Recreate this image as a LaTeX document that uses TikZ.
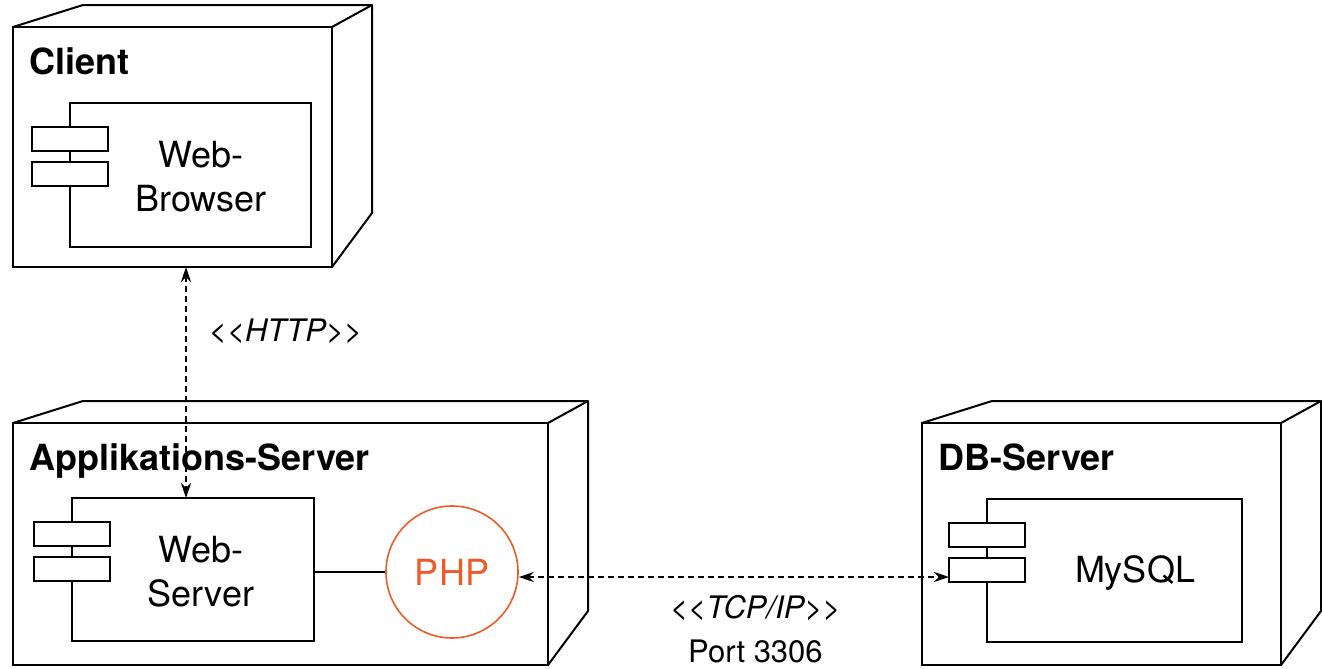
\documentclass[tikz,border=0pt]{standalone}
\usepackage{fontspec}
\setmainfont{TeX Gyre Heros}
\usepackage{xcolor}
\usepackage{tikz}
\usetikzlibrary{positioning,arrows.meta}
\definecolor{phporange}{RGB}{240,90,40}
\newcommand{\stereo}[1]{<\kern0pt<#1>\kern0pt>}

\begin{document}
\begin{tikzpicture}[x=0.5pt, y=-0.5pt,
  face/.style={draw, line width=1pt, inner sep=0pt, outer sep=0pt},
  depth/.style={line width=1pt, line join=round},
  title/.style={font=\fontsize{18}{22}\selectfont\bfseries, inner sep=0pt, anchor=base west},
  comp/.style={draw, fill=white, line width=1pt, inner sep=0pt, outer sep=0pt},
  port/.style={draw, fill=white, line width=1pt, inner sep=0pt, outer sep=0pt,
    minimum width=38pt, minimum height=12pt},
  comptext/.style={font=\fontsize{18}{22}\selectfont, align=center, inner sep=0pt},
  lbl/.style={font=\fontsize{15.5}{20}\selectfont, inner sep=0pt},
  link/.style={line width=0.9pt, dash pattern=on 3pt off 2pt,
    {Stealth[length=7.5pt, width=5pt]}-{Stealth[length=7.5pt, width=5pt]}}]
% deployment diagram, pixel coordinates (y downwards)
\useasboundingbox (0,0) rectangle (1322,669);

% Helper: 3D node box, front face from (left, top) to (right, bottom)
\newcommand{\umlnode}[6]{% name, left, top, right, bottom, title
  \node[face, minimum width={(#4-#2)*0.5pt}, minimum height={(#5-#3)*0.5pt}]
    (#1) at ({(#2+#4)/2}, {(#3+#5)/2}) {};
  \draw[depth] (#1.north west) -- ({#2+70}, {#3-22}) -- ({#4+40}, {#3-22})
    -- ({#4+40}, {#5-54}) -- (#1.south east);
  \draw[depth] (#1.north east) -- ({#4+40}, {#3-22});
  \node[title] (#1-title) at ({#2+16}, {#3+47}) {#6};
}

% Helper: component with its two small port boxes
\newcommand{\umlcomp}[7]{% name, left, top, right, bottom, text x, text
  \node[comp, minimum width={(#4-#2)*0.5pt}, minimum height={(#5-#3)*0.5pt}]
    (#1) at ({(#2+#4)/2}, {(#3+#5)/2}) {};
  \node[port] (#1-p1) at ([yshift=-18pt]#1.north west) {};
  \node[port] (#1-p2) at ([yshift=-35.5pt]#1.north west) {};
  \node[comptext] (#1-text) at (#6, {(#3+#5)/2+2}) {#7};
}

% 1. Nodes
\umlnode{client}{13}{27}{332}{267}{Client}
\umlnode{appserver}{13}{423}{548}{665}{Applikations-Server}
\umlnode{dbserver}{922}{423}{1281}{665}{DB-Server}

% 2. Components
\umlcomp{browser}{70}{103}{311}{247}{201}{Web-\\Browser}
\umlcomp{webserver}{72}{498}{314}{641}{201}{Web-\\Server}
\umlcomp{mysql}{987}{499}{1242}{642}{1135}{MySQL}

\node[circle, draw=phporange, text=phporange, line width=0.8pt, inner sep=0pt,
  minimum size=66pt, font=\fontsize{18}{22}\selectfont] (php) at (452,572) {PHP};
\draw[line width=1pt] (php.west -| webserver.east) -- (php.west);

% 3. Connections
\draw[link] ([xshift=6.75pt]client.south) -- ([xshift=6.75pt]client.south |- webserver.north)
  node[lbl, pos=0.28, anchor=west, xshift=11pt] (http) {\textit{\stereo{HTTP}}};
\draw[link] ([yshift=-2.5pt]php.east) -- ([yshift=-2.5pt]php.east -| mysql-p2.west)
  node[lbl, pos=0.55, anchor=base, yshift=-20.5pt] (tcp) {\textit{\stereo{TCP/IP}}}
  node[lbl, pos=0.55, anchor=base, yshift=-42.5pt] (port) {Port 3306};

\end{tikzpicture}
\end{document}
